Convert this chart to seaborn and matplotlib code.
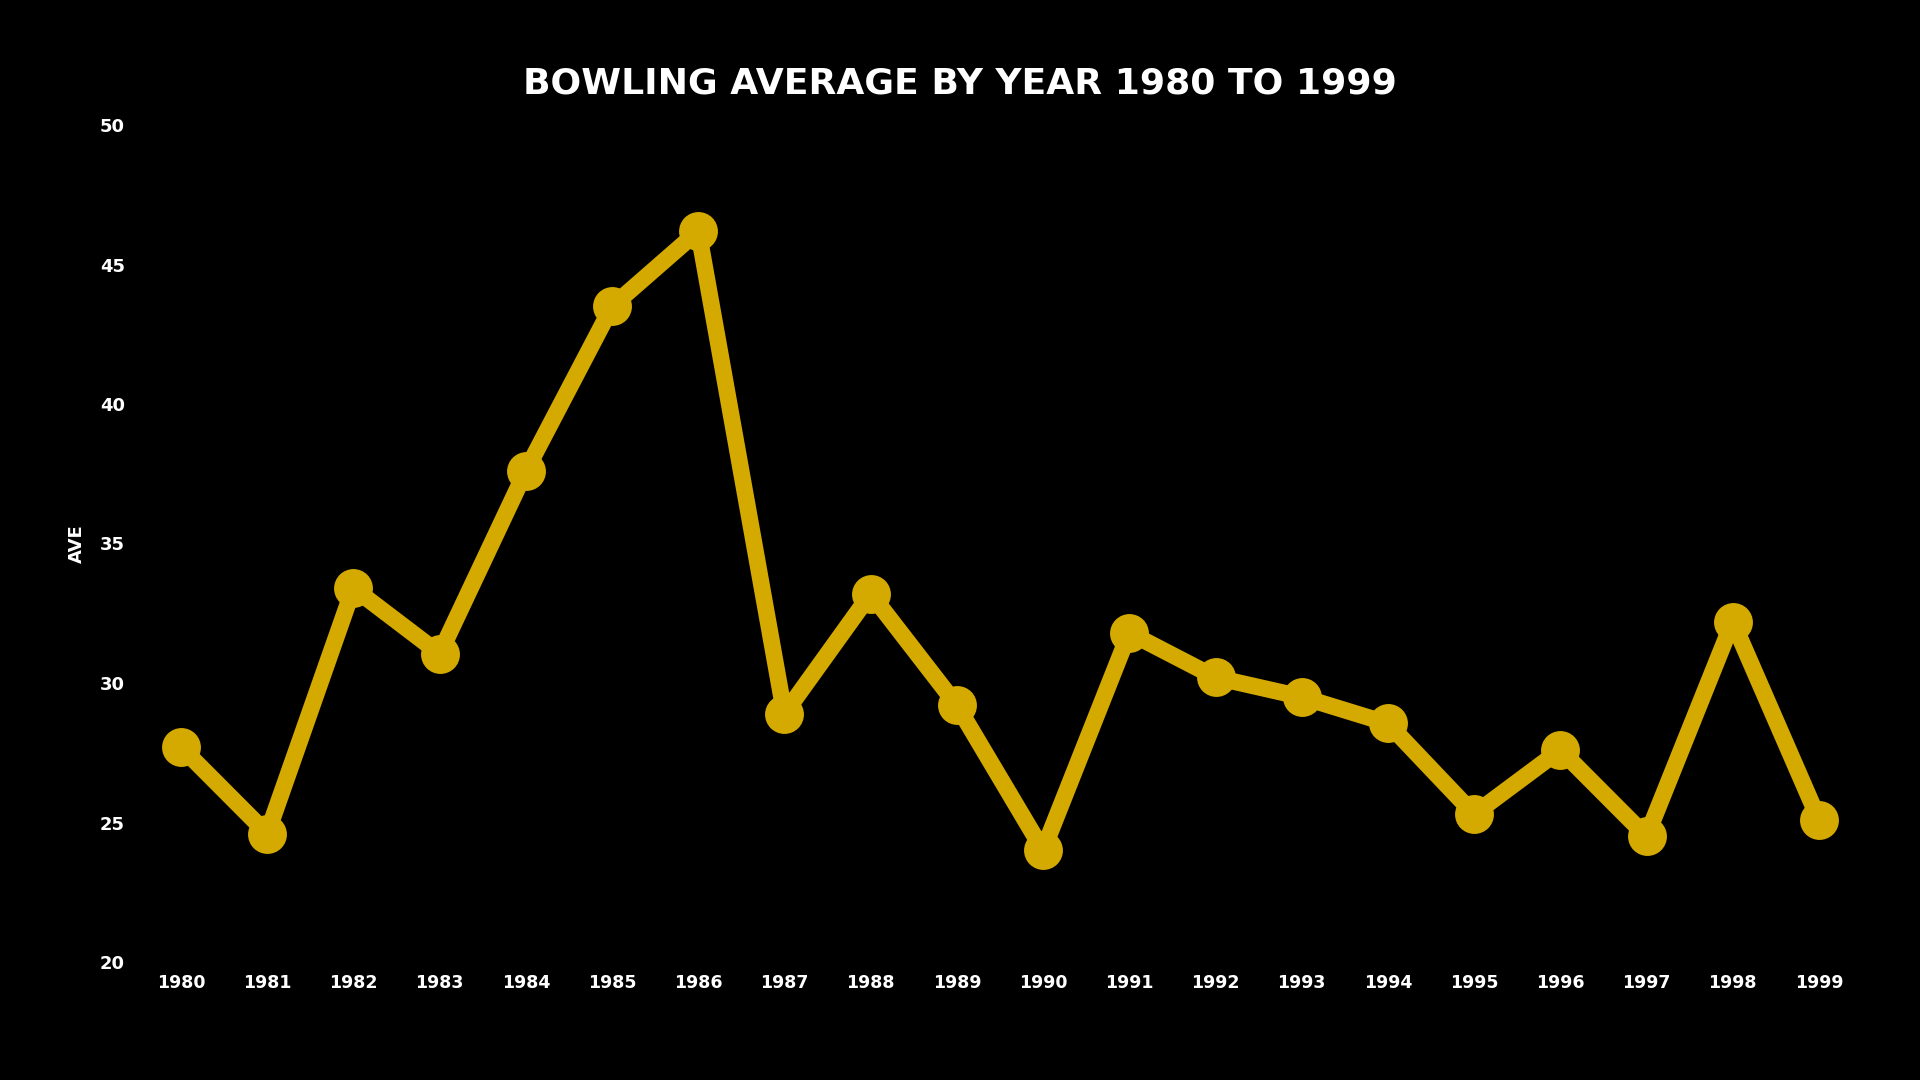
import numpy as np
import matplotlib
matplotlib.use('Agg')
import matplotlib.pyplot as plt
import seaborn as sns
import pandas as pd

# data
years = list(range(1980, 2000))
ave = [27.7, 24.6, 33.4, 31.05, 37.6, 43.5, 46.2, 28.9, 33.2, 29.2,
       24.0, 31.8, 30.2, 29.5, 28.55, 25.3, 27.6, 24.5, 32.2, 25.1]
y_ticks = [20, 25, 30, 35, 40, 45, 50]

title = 'BOWLING AVERAGE BY YEAR 1980 TO 1999'
line_color = '#d4aa00'

sns.set_style("dark", {'axes.facecolor': 'black', 'figure.facecolor': 'black'})
plt.rcParams['font.family'] = ['DejaVu Sans']

df = pd.DataFrame({'year': years, 'AVE': ave})

fig = plt.figure(figsize=(19.2, 10.8), dpi=100)
fig.patch.set_facecolor('black')
ax = fig.add_axes([140 / 1920, 1 - 962 / 1080, 1720 / 1920, (962 - 125) / 1080])
ax.set_facecolor('black')

sns.lineplot(data=df, x='year', y='AVE', ax=ax, color=line_color,
             linewidth=12, marker='o', markersize=28, markeredgewidth=0,
             solid_joinstyle='round', solid_capstyle='round')

ax.set_xlim(1980 - 0.476, 1999 + 0.476)
ax.set_ylim(20, 50)
ax.set_xticks(years)
ax.set_yticks(y_ticks)
ax.grid(False)
for s in ax.spines.values():
    s.set_visible(False)

font = dict(family='DejaVu Sans', fontweight='bold', color='white')
ax.set_xticklabels([str(y) for y in years], fontsize=12.5, **font)
ax.set_yticklabels([str(t) for t in y_ticks], fontsize=13, **font)
ax.tick_params(axis='both', length=0, colors='white')
ax.tick_params(axis='x', pad=9)
ax.tick_params(axis='y', pad=11)
ax.set_xlabel('')
ax.set_ylabel('AVE', fontsize=13, labelpad=10, **font)

fig.text(0.5, 1 - 83 / 1080, title, ha='center', va='center', fontsize=26, **font)

plt.savefig('out.png', dpi=100, facecolor='black')
plt.close()
